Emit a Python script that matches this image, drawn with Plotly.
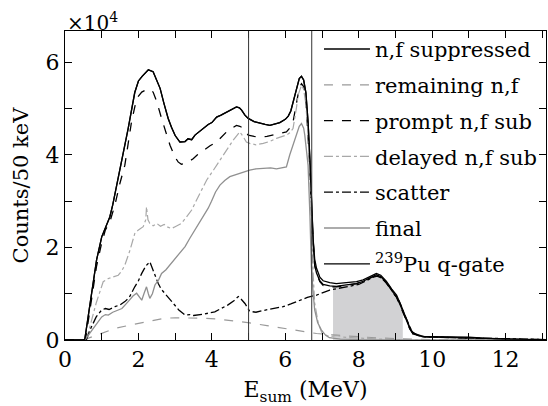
import numpy as np
import plotly.graph_objects as go

# ---- data (counts per 50 keV, in units of 1e4) ----
supp_E = [0, 0.5, 0.54, 0.7, 0.86, 1.0, 1.09, 1.22, 1.30, 1.40, 1.5, 1.72, 1.9, 2.0, 2.1, 2.27, 2.4, 2.5, 2.59, 2.7,
          2.81, 2.9, 3.0, 3.13, 3.27, 3.35, 3.45, 3.54, 3.65, 3.76, 3.9, 4.0, 4.13, 4.25, 4.4, 4.55, 4.67, 4.75,
          4.81, 4.9, 4.99, 5.15, 5.31, 5.45, 5.58, 5.7, 5.85, 6.0, 6.08, 6.15, 6.21, 6.3, 6.38, 6.44, 6.50, 6.56,
          6.62, 6.67, 6.71, 6.76, 6.80, 6.85, 6.94, 7.03, 7.21, 7.39, 7.66, 7.94, 8.12, 8.30, 8.48, 8.6, 8.75,
          8.9, 9.03, 9.15, 9.30, 9.39, 9.48, 9.66, 9.75, 10.0, 10.48, 11.0, 11.4, 12.0, 12.5, 13.1]
supp_V = [0, 0, 0.02, 0.9, 1.73, 2.23, 2.42, 2.66, 2.92, 3.3, 3.7, 4.57, 5.35, 5.6, 5.7, 5.84, 5.80, 5.62, 5.44, 5.1,
          4.79, 4.6, 4.42, 4.28, 4.29, 4.35, 4.33, 4.43, 4.50, 4.58, 4.66, 4.70, 4.82, 4.86, 4.93, 5.0, 5.04, 5.02,
          4.97, 4.86, 4.79, 4.72, 4.68, 4.66, 4.64, 4.67, 4.70, 4.77, 4.84, 4.95, 5.15, 5.45, 5.65, 5.70, 5.62, 5.35,
          4.71, 3.9, 3.0, 2.16, 1.75, 1.55, 1.36, 1.28, 1.24, 1.22, 1.24, 1.26, 1.30, 1.37, 1.44, 1.40, 1.27,
          1.10, 0.97, 0.75, 0.43, 0.27, 0.15, 0.10, 0.08, 0.075, 0.07, 0.06, 0.04, 0.02, 0.01, 0.01]

qgate_E = supp_E
qgate_V = [0, 0, 0.02, 0.9, 1.73, 2.23, 2.42, 2.66, 2.92, 3.3, 3.7, 4.57, 5.35, 5.6, 5.7, 5.84, 5.80, 5.62, 5.44, 5.1,
           4.79, 4.6, 4.42, 4.28, 4.29, 4.35, 4.33, 4.43, 4.50, 4.58, 4.66, 4.70, 4.82, 4.86, 4.93, 5.0, 5.04, 5.02,
           4.97, 4.86, 4.79, 4.72, 4.68, 4.66, 4.64, 4.67, 4.70, 4.77, 4.84, 4.95, 5.15, 5.45, 5.65, 5.70, 5.62, 5.35,
           4.71, 3.9, 3.0, 2.10, 1.62, 1.45, 1.28, 1.20, 1.17, 1.16, 1.19, 1.22, 1.27, 1.34, 1.41, 1.37, 1.24,
           1.07, 0.93, 0.72, 0.40, 0.25, 0.13, 0.09, 0.07, 0.065, 0.06, 0.05, 0.035, 0.02, 0.01, 0.01]

remain_E = [0.5, 0.73, 1.0, 1.36, 1.7, 2.0, 2.4, 2.72, 3.0, 3.4, 3.81, 4.2, 4.54, 5.03, 5.5, 5.94, 6.4, 6.85,
            7.3, 7.75, 8.2, 8.66, 9.1, 9.5, 10.0, 13.1]
remain_V = [0, 0.07, 0.15, 0.25, 0.31, 0.36, 0.42, 0.47, 0.48, 0.48, 0.47, 0.45, 0.42, 0.37, 0.31, 0.25, 0.19, 0.14,
            0.11, 0.08, 0.06, 0.04, 0.025, 0.01, 0.005, 0]

prompt_E = [0, 0.54, 0.56, 0.7, 0.86, 1.0, 1.1, 1.22, 1.36, 1.5, 1.63, 1.81, 1.95, 2.09, 2.27, 2.40, 2.5, 2.63, 2.75,
            2.86, 3.0, 3.08, 3.17, 3.27, 3.38, 3.49, 3.6, 3.76, 3.95, 4.13, 4.25, 4.40, 4.55, 4.67, 4.76, 4.85,
            4.93, 4.99, 5.15, 5.31, 5.5, 5.67, 5.85, 6.03, 6.12, 6.21, 6.3, 6.38, 6.44, 6.5, 6.56, 6.62, 6.67,
            6.71, 6.76, 6.80, 6.85, 6.94, 7.03, 7.21, 7.39, 7.66, 7.94, 8.12, 8.30, 8.48, 8.6, 8.75, 8.9, 9.03,
            9.15, 9.30, 9.39, 9.48, 9.66, 10.0, 10.5, 11.0, 11.5, 12.0, 13.1]
prompt_V = [0, 0, 0.02, 0.8, 1.6, 2.1, 2.38, 2.55, 2.92, 3.4, 3.78, 4.71, 5.22, 5.36, 5.43, 5.36, 5.15, 4.79, 4.5,
            4.21, 3.95, 3.85, 3.80, 3.82, 3.86, 3.92, 4.0, 4.10, 4.20, 4.28, 4.38, 4.50, 4.58, 4.64, 4.62, 4.58,
            4.48, 4.43, 4.40, 4.39, 4.40, 4.43, 4.46, 4.50, 4.58, 4.71, 5.1, 5.45, 5.54, 5.48, 5.20, 4.5, 3.7,
            2.8, 2.05, 1.62, 1.45, 1.26, 1.18, 1.15, 1.15, 1.18, 1.22, 1.27, 1.34, 1.40, 1.36, 1.23, 1.06, 0.92,
            0.70, 0.39, 0.24, 0.13, 0.08, 0.06, 0.05, 0.04, 0.03, 0.015, 0.01]

delayed_E = [0.58, 0.7, 0.85, 1.04, 1.18, 1.3, 1.45, 1.55, 1.63, 1.77, 1.90, 2.0, 2.13, 2.2, 2.22, 2.26, 2.31, 2.4,
             2.5, 2.6, 2.7, 2.8, 2.9, 3.0, 3.17, 3.3, 3.45, 3.58, 3.72, 3.86, 4.05, 4.22, 4.4, 4.58, 4.68, 4.76,
             4.85, 4.94, 5.03, 5.2, 5.40, 5.6, 5.76, 5.9, 6.03, 6.12, 6.21, 6.3, 6.35, 6.44, 6.5, 6.56, 6.62, 6.67,
             6.71, 6.76, 6.80, 6.9, 7.0, 7.2, 7.4, 7.6, 7.8, 8.2, 8.6, 9.0, 9.5, 13.1]
delayed_V = [0, 0.35, 0.8, 1.26, 1.33, 1.36, 1.40, 1.5, 1.62, 1.94, 2.30, 2.38, 2.45, 2.6, 2.88, 2.6, 2.52, 2.47,
             2.52, 2.46, 2.50, 2.44, 2.41, 2.45, 2.52, 2.65, 2.81, 3.02, 3.25, 3.46, 3.68, 3.89, 4.1, 4.32, 4.42, 4.50,
             4.40, 4.28, 4.25, 4.22, 4.25, 4.30, 4.36, 4.40, 4.43, 4.48, 4.57, 5.0, 5.3, 5.5, 5.42, 5.1, 4.4, 3.5,
             2.4, 1.4, 0.8, 0.35, 0.15, 0.07, 0.1, 0.06, 0.05, 0.03, 0.02, 0.01, 0, 0]

scatter_E = [0.58, 0.7, 0.85, 1.0, 1.1, 1.2, 1.36, 1.5, 1.63, 1.75, 1.90, 2.0, 2.09, 2.2, 2.31, 2.4, 2.54, 2.62, 2.72,
             2.85, 2.99, 3.1, 3.27, 3.4, 3.5, 3.63, 3.8, 3.95, 4.08, 4.25, 4.44, 4.6, 4.72, 4.80, 4.90, 5.03, 5.2,
             5.35, 5.49, 5.7, 5.94, 6.15, 6.39, 6.6, 6.85, 7.0, 7.21, 7.4, 7.57, 7.8, 8.0, 8.2, 8.4, 8.5, 8.65,
             8.8, 8.95, 9.1, 9.25, 9.35, 9.45, 9.6, 9.8, 10.2, 10.8, 11.3, 11.8, 12.4, 13.1]
scatter_V = [0, 0.25, 0.5, 0.65, 0.68, 0.66, 0.72, 0.76, 0.83, 0.92, 1.15, 1.28, 1.44, 1.6, 1.69, 1.50, 1.22, 1.10, 1.01,
             0.88, 0.76, 0.65, 0.54, 0.55, 0.53, 0.54, 0.56, 0.59, 0.61, 0.68, 0.76, 0.85, 0.94, 0.88, 0.79, 0.62, 0.60,
             0.63, 0.65, 0.68, 0.72, 0.78, 0.86, 0.92, 0.97, 1.02, 1.08, 1.11, 1.14, 1.17, 1.20, 1.28, 1.36, 1.38, 1.33,
             1.20, 1.03, 0.84, 0.55, 0.35, 0.18, 0.10, 0.07, 0.06, 0.05, 0.04, 0.03, 0.015, 0.01]

final_E = [0.54, 0.65, 0.82, 1.0, 1.1, 1.18, 1.3, 1.45, 1.55, 1.72, 1.85, 1.95, 2.02, 2.09, 2.15, 2.22, 2.27, 2.31,
           2.38, 2.45, 2.55, 2.63, 2.75, 2.90, 3.05, 3.15, 3.27, 3.4, 3.54, 3.65, 3.81, 3.9, 3.99, 4.1, 4.22, 4.35,
           4.49, 4.6, 4.76, 4.9, 5.03, 5.2, 5.40, 5.6, 5.76, 5.9, 6.03, 6.12, 6.21, 6.30, 6.38, 6.44, 6.50, 6.53,
           6.58, 6.62, 6.67, 6.71, 6.76, 6.80, 6.88, 6.98, 7.1, 7.2, 7.5, 8.0, 13.1]
final_V = [0, 0.12, 0.29, 0.50, 0.55, 0.54, 0.60, 0.65, 0.68, 0.83, 0.95, 1.01, 0.92, 0.86, 1.0, 1.15, 1.0, 0.90,
           1.0, 1.19, 1.30, 1.44, 1.52, 1.66, 1.80, 1.90, 2.02, 2.20, 2.38, 2.52, 2.74, 2.85, 3.0, 3.2, 3.35, 3.45,
           3.53, 3.56, 3.60, 3.63, 3.67, 3.70, 3.71, 3.72, 3.70, 3.72, 3.74, 4.0, 4.2, 4.43, 4.62, 4.68, 4.58, 4.43,
           4.1, 3.78, 2.7, 1.58, 1.0, 0.65, 0.38, 0.22, 0.10, 0.05, 0.02, 0.01, 0]

shade_range = [7.3, 9.2]          # MeV, gated window
vlines = [5.0, 6.72]              # MeV
x_ticks = [0, 2, 4, 6, 8, 10, 12]
y_ticks = [0, 2, 4, 6]

FONT = "DejaVu Serif"

fig = go.Figure()

# shaded window under the q-gate spectrum
qE = np.array(qgate_E, float)
qV = np.array(qgate_V, float)
inside = (qE > shade_range[0]) & (qE < shade_range[1])
sx = np.concatenate([[shade_range[0]], qE[inside], [shade_range[1]]])
sy = np.concatenate([[np.interp(shade_range[0], qE, qV)], qV[inside], [np.interp(shade_range[1], qE, qV)]])
fig.add_trace(go.Scatter(x=sx, y=sy, fill="tozeroy", mode="none", fillcolor="#d2d2d4",
                         showlegend=False, hoverinfo="skip"))

series = [
    ("n,f suppressed", supp_E, supp_V, "#000000", "solid", 1.3),
    ("remaining n,f", remain_E, remain_V, "#9a9a9a", "dash", 1.2),
    ("prompt n,f sub", prompt_E, prompt_V, "#000000", "dash", 1.3),
    ("delayed n,f sub", delayed_E, delayed_V, "#a8a8a8", "dashdot", 1.2),
    ("scatter", scatter_E, scatter_V, "#000000", "dashdot", 1.3),
    ("final", final_E, final_V, "#909090", "solid", 1.3),
    ("<sup>239</sup>Pu q-gate", qgate_E, qgate_V, "#000000", "solid", 1.3),
]
for i, (name, xe, yv, col, dash, w) in enumerate(series):
    fig.add_trace(go.Scatter(x=xe, y=yv, mode="lines", name=name, legendgroup=str(i),
                             line=dict(color=col, dash=dash, width=w)))

for v in vlines:
    fig.add_shape(type="line", x0=v, x1=v, y0=0, y1=1, xref="x", yref="paper",
                  line=dict(color="#333333", width=1))

axis_common = dict(showline=True, linecolor="black", linewidth=1, mirror="ticks", ticks="inside",
                   ticklen=7, tickwidth=1, tickcolor="black", showgrid=False, zeroline=False,
                   tickfont=dict(family=FONT, size=22, color="black"))

fig.update_layout(
    width=548, height=406,
    margin=dict(l=65, r=2, t=31, b=66),
    paper_bgcolor="white", plot_bgcolor="white",
    font=dict(family=FONT, size=21, color="black"),
    xaxis=dict(range=[0, 13.1], tickvals=x_ticks, ticktext=[str(t) for t in x_ticks],
               minor=dict(dtick=1, ticks="inside", ticklen=7, tickcolor="black"),
               title=dict(text="E<sub>sum</sub> (MeV)", font=dict(family=FONT, size=22), standoff=13),
               **axis_common),
    yaxis=dict(range=[0, 6.68], tickvals=y_ticks, ticktext=[str(t) for t in y_ticks],
               minor=dict(dtick=1, ticks="inside", ticklen=7, tickcolor="black"),
               title=dict(text="Counts/50 keV", font=dict(family=FONT, size=21), standoff=11),
               **axis_common),
    legend=dict(x=0.528, y=1.007, xanchor="left", yanchor="top", bgcolor="rgba(0,0,0,0)",
                font=dict(family=FONT, size=21, color="black"), traceorder="grouped",
                tracegroupgap=5.5, itemwidth=46, maxheight=600),
    showlegend=True,
)
fig.add_annotation(text="×10<sup>4</sup>", xref="paper", yref="paper", x=0, y=1, xanchor="left",
                   yanchor="bottom", showarrow=False, yshift=-6,
                   font=dict(family=FONT, size=20, color="black"))

fig.write_html("out.html")
